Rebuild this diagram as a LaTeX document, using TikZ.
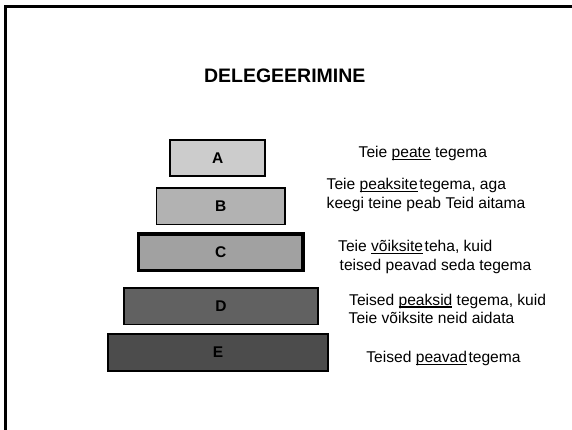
\documentclass[tikz,border=0pt]{standalone}
\usepackage{fontspec}
\setmainfont{Liberation Sans}
\newsavebox\myulbox
\newcommand{\myul}[1]{\sbox\myulbox{#1}\rlap{\rule[-2.6pt]{\wd\myulbox}{1.2pt}}\usebox\myulbox}
\definecolor{fillA}{gray}{0.80}
\definecolor{fillB}{gray}{0.70}
\definecolor{fillC}{gray}{0.63}
\definecolor{fillD}{gray}{0.38}
\definecolor{fillE}{gray}{0.30}
\tikzset{
  tier/.style={draw=black, line width=1.8pt, inner sep=0pt,
    font=\fontsize{15.5}{17}\selectfont\bfseries},
  txt/.style={anchor=base west, inner sep=0pt, font=\fontsize{15.6}{18}\selectfont},
  ttl/.style={anchor=base west, inner sep=0pt, font=\fontsize{19.5}{22}\selectfont\bfseries},
  frame/.style={line width=3.3pt}
}
\begin{document}
\begin{tikzpicture}[x=1pt,y=-1pt]
\useasboundingbox (0,0) rectangle (572,430);
\draw[frame] (572,6.5) -- (5.5,6.5) -- (5.5,430);
\node[ttl] (title) at (203.8,83) {DELEGEERIMINE};
\node[tier, fill=fillA, minimum width=95pt, minimum height=36.2pt] (A) at (217.7,158) {A};
\node[tier, fill=fillB, minimum width=128.5pt, minimum height=36.2pt] (B) at (220.8,206.3) {B};
\node[tier, fill=fillC, line width=3.5pt, minimum width=164.5pt, minimum height=36.5pt] (C) at (220.7,252.3) {C};
\node[tier, fill=fillD, minimum width=193.6pt, minimum height=36.2pt] (D) at (221,306.3) {D};
\node[tier, fill=fillE, minimum width=219.6pt, minimum height=37.2pt] (E) at (218,352.2) {E};
\node[txt] (tA) at (358.5,157.3) {Teie \myul{peate} tegema};
\node[txt] (tB1) at (326.5,189.3) {Teie \myul{peaksite}\hspace{1.5pt}tegema, aga};
\node[txt] (tB2) at (326.5,208.3) {keegi teine peab Teid aitama};
\node[txt] (tC1) at (338,251.7) {Teie \myul{võiksite}\hspace{1.5pt}teha, kuid};
\node[txt] (tC2) at (339.5,270) {teised peavad seda tegema};
\node[txt] (tD1) at (349,305) {Teised \myul{peaksid} tegema, kuid};
\node[txt] (tD2) at (348.5,323.3) {Teie võiksite neid aidata};
\node[txt] (tE) at (366.2,362.7) {Teised \myul{peavad}\hspace{1.5pt}tegema};
\end{tikzpicture}
\end{document}
